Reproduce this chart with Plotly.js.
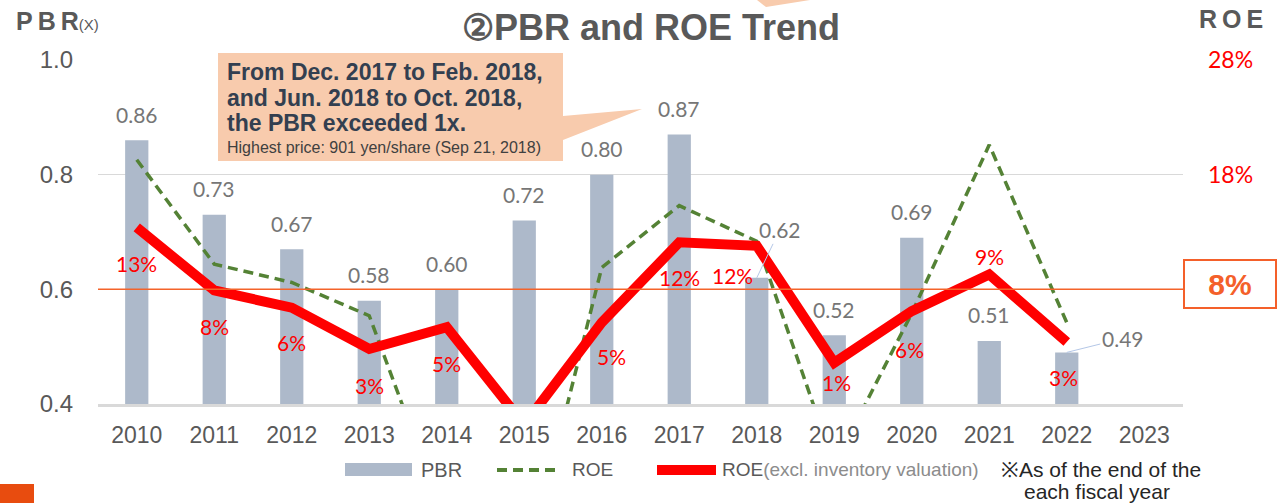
<!DOCTYPE html>
<html><head><meta charset="utf-8">
<script src="https://cdn.plot.ly/plotly-3.0.1.min.js"></script>
<style>html,body{margin:0;padding:0;background:#fff;}#chart{width:1278px;height:503px;}</style>
</head><body><div id="chart"></div>
<script>
// ---- data ----
const years = ['2010','2011','2012','2013','2014','2015','2016','2017','2018','2019','2020','2021','2022','2023'];
const pbr = [0.86,0.73,0.67,0.58,0.60,0.72,0.80,0.87,0.62,0.52,0.69,0.51,0.49,null];
const roe = [19.3,10.2,8.6,5.7,-12.5,-17.0,9.9,15.3,12.2,-7.3,5.9,20.6,5.1,null];
const roeExInv = [13.4,7.9,6.4,2.8,4.7,-3.8,5.1,12.1,11.8,1.6,6.1,9.3,3.4,null];
const roeExInvLabels = ['13%','8%','6%','3%','5%',null,'5%','12%','12%','1%','6%','9%','3%',null];
const pbrTicks = [0.4,0.6,0.8,1.0];
const pbrTickText = ['0.4','0.6','0.8','1.0'];
const roeTicks = [18,28];
const roeTickText = ['18%','28%'];
const roeTarget = 8;

// ---- layout helpers (pixel -> paper) ----
const L=98, T=60, W=1085, H=344;
const px = x => (x-L)/W;
const py = y => (T+H-y)/H;

// label offsets (style only)
const redShift = [[0,-36],[0,-36],[0,-35],[0,-37],[0,-36],null,[10,-34],[0,-35],[-24,-30],[2,-20],[-2,-38],[0,18],[-3,-35],null];
const pbrArrow = {'2018':[23,-48],'2022':[56,-14]};

const traces = [
  {type:'bar', x:years, y:pbr, marker:{color:'#ADB9CA'}, width:0.3, hoverinfo:'skip', showlegend:false},
  {type:'scatter', mode:'lines', x:years, y:roe, yaxis:'y2', line:{color:'#548235', width:3.5, dash:'10px,6px'}, showlegend:false},
  {type:'scatter', mode:'lines', x:years, y:roeExInv, yaxis:'y2', line:{color:'#FF0000', width:10}, showlegend:false}
];

const ann = [];
const lato = 'Lato, Carlito, Calibri, sans-serif';
pbr.forEach((v,i)=>{
  if(v===null) return;
  const y = years[i];
  const t = v.toFixed(2);
  if(pbrArrow[y]){
    ann.push({x:i, y:v, xref:'x', yref:'y', text:t, showarrow:true, arrowhead:0, arrowwidth:1, arrowcolor:'#B4C7E7', standoff:0,
      ax:pbrArrow[y][0], ay:pbrArrow[y][1], font:{family:lato, size:21, color:'#767676'}});
  } else {
    ann.push({x:i, y:v, xref:'x', yref:'y', text:t, showarrow:false, yanchor:'middle', yshift:26, font:{family:lato, size:21, color:'#767676'}});
  }
});
roeExInv.forEach((v,i)=>{
  if(roeExInvLabels[i]===null || v===null) return;
  ann.push({x:i, y:v, xref:'x', yref:'y2', text:roeExInvLabels[i], showarrow:false, yanchor:'middle',
    xshift:redShift[i][0], yshift:redShift[i][1], font:{family:lato, size:21, color:'#FF0000'}});
});

const arial = 'Liberation Sans, Arial, sans-serif';
const narrow = 'Liberation Sans Narrow, Arial Narrow, Liberation Sans, sans-serif';
const hs = '\u2009';
// axis headers
ann.push({xref:'paper', yref:'paper', x:px(14), y:py(21), xanchor:'left', yanchor:'middle', showarrow:false,
  text:'<b>P'+hs+'B'+hs+'R</b><span style="font-size:15px">(X)</span>', font:{family:arial, size:25, color:'#595959'}});
ann.push({xref:'paper', yref:'paper', x:px(1231), y:py(19), xanchor:'center', yanchor:'middle', showarrow:false,
  text:'<b>R'+hs+'O'+hs+'E</b>', font:{family:arial, size:25, color:'#595959'}});
// 8% box
ann.push({xref:'paper', yref:'y2', x:px(1230), y:roeTarget, yshift:5, xanchor:'center', yanchor:'middle', showarrow:false,
  text:'<b>'+roeTarget+'%</b>', width:90, height:46, borderpad:0, bordercolor:'#F4602A', borderwidth:2,
  font:{family:arial, size:30, color:'#F4602A'}});
// callout text
const callLines = ['From Dec. 2017 to Feb. 2018,','and Jun. 2018 to Oct. 2018,','the PBR exceeded 1x.'];
const callY = [72, 98, 123];
callLines.forEach((s,k)=>{
  ann.push({xref:'paper', yref:'paper', x:px(225), y:py(callY[k]), xanchor:'left', yanchor:'middle', showarrow:false,
    text:'<b>'+s+'</b>', font:{family:arial, size:23, color:'#333F50'}});
});
ann.push({xref:'paper', yref:'paper', x:px(225), y:py(147), xanchor:'left', yanchor:'middle', showarrow:false,
  text:'Highest price: 901 yen/share (Sep 21, 2018)', font:{family:arial, size:16, color:'#404040'}});
// legend texts
ann.push({xref:'paper', yref:'paper', x:px(419), y:py(470), xanchor:'left', yanchor:'middle', showarrow:false,
  text:'PBR', font:{family:narrow, size:20, color:'#595959'}});
ann.push({xref:'paper', yref:'paper', x:px(570), y:py(470), xanchor:'left', yanchor:'middle', showarrow:false,
  text:'ROE', font:{family:narrow, size:19, color:'#595959'}});
ann.push({xref:'paper', yref:'paper', x:px(720), y:py(470), xanchor:'left', yanchor:'middle', showarrow:false,
  text:'ROE<span style="color:#8c8c8c">(excl. inventory valuation)</span>', font:{family:narrow, size:19, color:'#595959'}});
ann.push({xref:'paper', yref:'paper', x:px(1101), y:py(469), xanchor:'center', yanchor:'middle', showarrow:false,
  text:'※As of the end of the', font:{family:narrow, size:21, color:'#262626'}});
ann.push({xref:'paper', yref:'paper', x:px(1097), y:py(491), xanchor:'center', yanchor:'middle', showarrow:false,
  text:'each fiscal year', font:{family:narrow, size:21, color:'#262626'}});

function path(pts){ return 'M '+pts.map(p=>px(p[0])+','+py(p[1])).join(' L ')+' Z'; }

const shapes = [
  {type:'line', xref:'paper', yref:'y2', x0:0, x1:1, y0:roeTarget, y1:roeTarget, line:{color:'#F4632A', width:1.5}, layer:'above'},
  {type:'path', xref:'paper', yref:'paper', path:path([[218,53],[563,53],[563,116],[642,109],[563,140],[563,161],[218,161]]),
    fillcolor:'#F8CBAD', line:{width:0}, layer:'above'},
  {type:'path', xref:'paper', yref:'paper', path:path([[757,0],[810,0],[766,7]]), fillcolor:'#F8CBAD', line:{width:0}},
  {type:'rect', xref:'paper', yref:'paper', x0:px(0), x1:px(34), y0:py(503), y1:py(484), fillcolor:'#E84C0F', line:{width:0}},
  {type:'rect', xref:'paper', yref:'paper', x0:px(345), x1:px(412), y0:py(476), y1:py(463), fillcolor:'#ADB9CA', line:{width:0}},
  {type:'line', xref:'paper', yref:'paper', x0:px(497), x1:px(555), y0:py(470), y1:py(470), line:{color:'#548235', width:4, dash:'10px,6px'}},
  {type:'line', xref:'paper', yref:'paper', x0:px(657), x1:px(716), y0:py(470), y1:py(470), line:{color:'#FF0000', width:10}}
];

const layout = {
  width:1278, height:503,
  margin:{l:L, r:1278-L-W, t:T, b:503-T-H, pad:0},
  paper_bgcolor:'#fff', plot_bgcolor:'#fff',
  showlegend:false,
  title:{text:'<b>②PBR and ROE Trend</b>', x:651/1278, xanchor:'center', xref:'container', y:1-27/503, yanchor:'middle', yref:'container',
    font:{family:arial, size:36, color:'#595959'}},
  xaxis:{type:'category', categoryorder:'array', categoryarray:years, range:[-0.5,13.5], showgrid:false, zeroline:false,
    showline:true, linecolor:'#D9D9D9', linewidth:2.5, ticks:'', ticklabelstandoff:9,
    tickfont:{family:arial, size:23, color:'#595959'}},
  yaxis:{range:[0.4,1.0], tickvals:pbrTicks, ticktext:pbrTickText, showgrid:true, gridcolor:'#D9D9D9', gridwidth:1.5, zeroline:false,
    showline:false, ticks:'', ticklabelstandoff:24, tickfont:{family:arial, size:24, color:'#595959'}},
  yaxis2:{overlaying:'y', side:'right', range:[-2,28], tickvals:roeTicks, ticktext:roeTickText, showgrid:false, zeroline:false,
    showline:false, ticks:'', ticklabelstandoff:24, tickfont:{family:lato, size:23, color:'#FF0000'}},
  annotations:ann,
  shapes:shapes
};

Plotly.newPlot('chart', traces, layout, {displayModeBar:false, staticPlot:true});
</script></body></html>
